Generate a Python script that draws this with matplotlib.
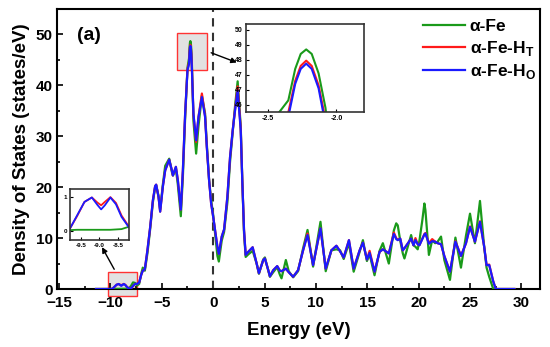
import numpy as np
import matplotlib
matplotlib.use("Agg")
import matplotlib.pyplot as plt
from matplotlib.patches import Rectangle

plt.rcParams['font.family'] = ['Liberation Sans', 'DejaVu Sans']
plt.rcParams['font.weight'] = 'bold'
plt.rcParams['mathtext.fontset'] = 'custom'
plt.rcParams['mathtext.bf'] = 'Liberation Sans:bold'
plt.rcParams['mathtext.rm'] = 'Liberation Sans:bold'

# ---- data ----
energy = [-11.4, -10.0, -9.8, -9.6, -9.4, -9.2, -9.05, -8.95, -8.85, -8.7, -8.55, -8.4, -8.2, -8.0,
          -7.8, -7.6, -7.4, -7.2, -7.0, -6.85, -6.65, -6.4, -6.13, -5.87, -5.65, -5.55, -5.32, -5.16,
          -4.9, -4.67, -4.28, -4.02, -3.92, -3.63, -3.44, -3.15, -2.95, -2.73, -2.5,
          -2.35, -2.30, -2.26, -2.22, -2.18, -2.13, -2.08, -1.92, -1.66, -1.43, -1.1, -0.79, -0.62,
          -0.4, -0.2, 0.0, 0.18, 0.41, 0.55, 0.83, 1.06, 1.38, 1.64, 1.9, 2.13, 2.38, 2.68, 2.83,
          3.0, 3.16, 3.41, 3.84, 4.23, 4.45, 4.87, 5.03, 5.36, 5.52, 5.84, 6.23, 6.49, 6.65, 7.07,
          7.35, 7.78, 8.26, 8.75, 9.18, 9.72, 10.44, 10.95, 11.5, 11.99, 12.35, 12.7, 13.21, 13.67,
          14.25, 14.57, 14.96, 15.22, 15.7, 16.19, 16.51, 17.09, 17.58, 17.81, 17.96, 18.2, 18.45,
          18.61, 19.26, 19.49, 19.68, 19.9, 20.07, 20.35, 20.55, 20.65, 20.99, 21.31, 21.6, 21.84,
          22.17, 22.49, 23.04, 23.57, 24.11, 24.6, 24.99, 25.47, 25.96, 26.37, 26.6, 26.86, 27.25,
          27.5, 29.3]

dos_fe = [0, 0, 0.02, 0.03, 0.03, 0.03, 0.03, 0.03, 0.03, 0.03, 0.04, 0.05, 0.12, 0.6,
          1.3, 1.2, 0.7, 1.0, 3.0, 4.2, 3.6, 7.0, 11.8, 17.0, 20.0, 20.4, 18.3, 15.6,
          20.5, 24.2, 25.6, 23.0, 22.3, 23.6, 20.5, 14.3, 22.0, 33.5, 43.5,
          45.3, 47.4, 48.4, 48.7, 48.4, 47.1, 44.8, 33.0, 26.6, 32.0, 38.0, 34.5, 28.5,
          21.5, 17.5, 14.5, 11.0, 6.5, 5.4, 9.5, 11.2, 17.0, 25.0, 30.8, 36.0, 40.8, 32.0, 21.4,
          11.0, 6.3, 6.8, 7.5, 5.0, 3.0, 5.8, 6.2, 3.6, 2.4, 3.3, 4.3, 2.8, 2.1, 5.7,
          3.5, 2.3, 3.5, 8.0, 11.6, 4.4, 13.2, 3.5, 7.6, 7.8, 7.6, 5.9, 9.0, 3.4,
          7.3, 9.6, 5.5, 6.8, 2.7, 7.5, 9.0, 5.0, 11.5, 12.9, 12.5, 9.5, 7.0,
          6.0, 10.6, 8.6, 8.3, 7.8, 9.5, 13.5, 16.8, 15.5, 6.7, 9.6, 9.0, 9.3,
          10.3, 5.7, 1.8, 10.1, 4.2, 10.5, 14.8, 9.0, 17.3, 8.3, 4.2, 2.4, 0.0,
          0, 0]

dos_fe_ht = [0, 0, 0.05, 0.43, 0.85, 0.98, 0.83, 0.75, 0.85, 0.99, 0.82, 0.45, 0.12, 0.1,
             0.6, 1.0, 1.0, 1.3, 2.8, 3.6, 3.9, 7.6, 12.2, 17.4, 20.2, 20.5, 18.1, 15.2,
             20.1, 23.3, 25.4, 23.3, 22.3, 24.0, 21.4, 15.6, 23.3, 34.4, 43.2,
             44.5, 46.6, 47.6, 47.95, 47.6, 46.3, 44.0, 34.2, 28.9, 33.8, 38.4, 34.0, 27.9,
             21.4, 16.8, 14.2, 11.6, 8.3, 6.9, 10.3, 11.7, 18.1, 25.9, 31.2, 35.3, 39.8, 31.5, 21.4,
             11.6, 6.7, 7.3, 8.2, 5.0, 3.1, 5.7, 6.0, 3.7, 2.5, 3.7, 4.5, 3.6, 3.5, 4.0,
             3.3, 2.4, 3.7, 7.6, 10.9, 4.7, 11.9, 4.0, 7.6, 8.5, 7.4, 6.2, 9.6, 4.0,
             7.6, 9.1, 5.8, 7.5, 3.4, 7.3, 7.8, 7.0, 11.1, 10.0, 9.7, 9.9, 7.6,
             8.0, 9.9, 8.6, 10.0, 8.8, 8.6, 9.9, 10.8, 11.0, 9.0, 9.8, 9.3, 9.0,
             8.8, 6.5, 3.4, 9.4, 6.5, 9.0, 12.3, 9.3, 13.3, 8.3, 4.7, 4.8, 1.5,
             0, 0]

dos_fe_ho = [0, 0, 0.05, 0.45, 0.85, 0.98, 0.76, 0.63, 0.75, 0.98, 0.78, 0.41, 0.1, 0.1,
             0.6, 1.0, 1.0, 1.3, 2.8, 3.6, 3.9, 7.6, 12.2, 17.4, 20.2, 20.5, 18.1, 15.2,
             20.1, 23.3, 25.4, 23.3, 22.3, 24.0, 21.4, 15.6, 23.3, 34.4, 43.0,
             44.2, 46.4, 47.4, 47.75, 47.4, 46.1, 43.7, 34.4, 29.2, 33.8, 37.7, 33.8, 27.9,
             21.4, 16.8, 14.2, 11.6, 8.3, 6.9, 10.3, 11.7, 18.1, 25.9, 31.2, 35.1, 39.0, 31.2, 21.4,
             11.6, 6.7, 7.3, 8.2, 5.0, 3.1, 5.7, 6.0, 3.7, 2.5, 3.7, 4.5, 3.6, 3.5, 4.0,
             3.3, 2.4, 3.7, 7.6, 10.6, 4.7, 11.9, 4.0, 7.6, 8.5, 7.4, 6.2, 9.6, 4.0,
             7.6, 9.1, 5.8, 7.1, 3.4, 7.3, 7.8, 7.0, 10.8, 9.8, 9.6, 9.9, 7.6,
             8.0, 9.9, 8.6, 9.6, 8.8, 8.6, 9.8, 10.7, 10.9, 8.9, 9.4, 9.3, 9.0,
             8.8, 6.5, 3.4, 9.3, 6.5, 9.0, 12.2, 9.3, 13.2, 8.3, 4.7, 4.7, 1.5,
             0, 0]

labels = ['α-Fe', r'α-Fe-H$_\mathbf{T}$', r'α-Fe-H$_\mathbf{O}$']
colors = ['#1a9a1a', '#ff1a1a', '#1a1aff']
series = [dos_fe, dos_fe_ht, dos_fe_ho]

x_ticks = [-15, -10, -5, 0, 5, 10, 15, 20, 25, 30]
y_ticks = [0, 10, 20, 30, 40, 50]

fig = plt.figure(figsize=(5.5, 3.47), dpi=100)
ax = fig.add_axes([0.1036, 0.1671, 0.8782, 0.8069])

for ys, c, lab in zip(series, colors, labels):
    ax.plot(energy, ys, color=c, lw=1.6, label=lab, zorder=3, solid_joinstyle='round')

ax.axvline(0, color='#333333', lw=1.5, ls=(0, (4, 3)), zorder=2)
ax.set_xlim(-15.2, 31.8)
ax.set_ylim(0, 55)
ax.set_xticks(x_ticks)
ax.set_yticks(y_ticks)
ax.set_xticks([-12.5, -7.5, -2.5, 2.5, 7.5, 12.5, 17.5, 22.5, 27.5], minor=True)
ax.set_yticks([5, 15, 25, 35, 45], minor=True)
ax.tick_params(which='major', direction='in', length=4, width=1.2, labelsize=11)
ax.tick_params(axis='x', which='major', pad=5)
ax.tick_params(axis='y', which='major', pad=3)
ax.tick_params(which='minor', direction='in', length=2.5, width=1.2)
for sp in ax.spines.values():
    sp.set_linewidth(1.5)
ax.set_xlabel('Energy (eV)', fontsize=13.5, fontweight='bold', labelpad=9)
ax.set_ylabel('Density of States (states/eV)', fontsize=13.5, fontweight='bold', labelpad=4)
ax.text(0.041, 0.905, '(a)', transform=ax.transAxes, fontsize=14, fontweight='bold', va='center')

# zoom rectangles
ax.add_patch(Rectangle((-3.53, 43.0), 2.91, 7.3, facecolor='#e2e2e2', edgecolor='#ff3333', lw=1, zorder=1))
ax.add_patch(Rectangle((-10.25, -1.3), 2.8, 4.6, facecolor='#e2e2e2', edgecolor='#ff3333', lw=1,
                       zorder=1, clip_on=False))

ax.annotate('', xy=(2.55, 44.3), xytext=(-0.45, 46.6),
            arrowprops=dict(arrowstyle='-|>', color='black', lw=1, mutation_scale=8))
ax.annotate('', xy=(-10.95, 8.7), xytext=(-9.5, 3.4),
            arrowprops=dict(arrowstyle='-|>', color='black', lw=1, mutation_scale=8))

leg = ax.legend(loc='upper left', bbox_to_anchor=(0.769, 0.945), bbox_transform=fig.transFigure,
                frameon=False, fontsize=12.5, handlelength=2.4, handletextpad=0.3,
                labelspacing=0.25, borderpad=0, borderaxespad=0)

# inset 1: main peak
ins1 = fig.add_axes([0.4467, 0.6764, 0.2151, 0.2545])
for ys, c in zip(series, colors):
    ins1.plot(energy, ys, color=c, lw=1.5)
ins1.set_xlim(-2.66, -1.80)
ins1.set_ylim(44.5, 50.4)
ins1.set_xticks([-2.5, -2.0])
ins1.set_xticklabels(['-2.5', '-2.0'])
ins1.set_yticks([50, 49, 48, 47, 46, 45])
ins1.set_yticklabels(['50', '49', '48', '47', '47', '46'])
ins1.tick_params(direction='in', length=2, width=0.8, labelsize=5, pad=2)
for sp in ins1.spines.values():
    sp.set_linewidth(1.2)
    sp.set_color('#333333')

# inset 2: low-energy states
ins2 = fig.add_axes([0.1273, 0.3084, 0.1078, 0.147])
for ys, c in zip(series, colors):
    ins2.plot(energy, ys, color=c, lw=1.3)
ins2.set_xlim(-9.79, -8.19)
ins2.set_ylim(-0.27, 1.23)
ins2.set_xticks([-9.5, -9.0, -8.5])
ins2.set_xticklabels(['-9.5', '-9.0', '-8.5'])
ins2.set_yticks([0, 1])
ins2.tick_params(direction='in', length=2, width=0.8, labelsize=4.5, pad=2)
for sp in ins2.spines.values():
    sp.set_linewidth(1.2)
    sp.set_color('#333333')

fig.savefig('out.png', dpi=100)
